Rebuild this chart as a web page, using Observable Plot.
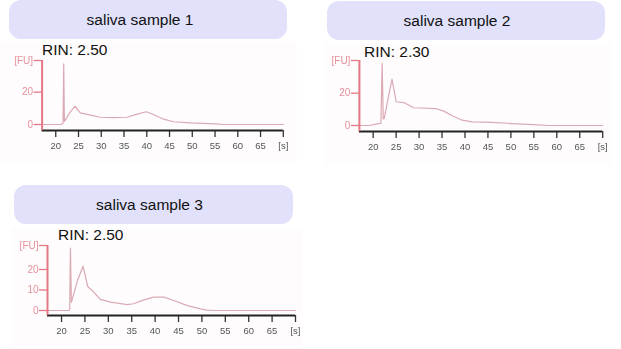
<!DOCTYPE html>
<html>
<head>
<meta charset="utf-8">
<script src="https://cdn.jsdelivr.net/npm/d3@7"></script>
<script src="https://cdn.jsdelivr.net/npm/@observablehq/plot@0.6"></script>
<style>
  html, body { margin: 0; padding: 0; background: #fff; }
  #page { position: relative; width: 621px; height: 349px; overflow: hidden;
          font-family: "Liberation Sans", Arial, sans-serif; }
  .head { position: absolute; background: #e1e1fb; border-radius: 12px;
          font-size: 15.5px; color: #111; display: flex; align-items: center; }
  .rin { position: absolute; font-size: 15.5px; color: #111; line-height: 1; }
  .chart { position: absolute; }
  .chart svg { display: block; filter: blur(0.3px); }
</style>
</head>
<body>
<div id="page"></div>
<script>
// Sample names and RNA integrity numbers
const sampleNames = ["saliva sample 1", "saliva sample 2", "saliva sample 3"];
const rinValues = [2.50, 2.30, 2.50];

// Migration time [s] and fluorescence [FU] for each electropherogram
const time1 = [17, 21.2, 21.6, 21.75, 21.9, 22.1, 23.0, 24.2, 25.4, 27.6, 29.8, 32.5, 35.7, 37.9, 39.9, 41.5, 43.7, 45.9, 49.6, 55, 57, 70];
const fu1   = [0,  0,    0.8,  37.5,  2.0,  2.7,  7.0,  11.3, 7.2,  5.8,  4.5,  4.3,  4.5,  6.4,  7.9,  6.2,  3.3,  1.7,  1.0,  0.4, 0, 0];

const time2 = [17, 19, 21.2, 21.7, 21.95, 22.2, 22.4, 23.4, 24.1, 25.0, 26.7, 28.8, 33.6, 35.4, 37.2, 39.4, 41.6, 45.9, 50.3, 55, 58, 70];
const fu2   = [0,  0,  1.2,  1.5,  38.4,  4.0,  4.3,  18.8, 28.7, 14.7, 14.2, 11.0, 10.5, 8.9,  6.0,  3.3,  2.3,  1.9,  1.2,  0.6, 0, 0];

const time3 = [17, 21.6, 21.75, 21.9, 22.1, 23.4, 24.6, 25.6, 26.9, 28.3, 30.5, 34.0, 35.4, 37.6, 39.7, 41.9, 44.0, 46.9, 49.7, 51.1, 53, 70];
const fu3   = [0,  0,    0.5,   30.4, 4.0,  14.6, 21.6, 11.7, 8.9,  5.4,  4.1,  2.9,  3.3,  5.2,  6.5,  6.5,  4.9,  2.4,  0.8,  0.2,  0, 0];

// Axis ticks
const xTicks = [20, 25, 30, 35, 40, 45, 50, 55, 60, 65, 70];
const yTicksA = [0, 20];
const yTicksB = [0, 10, 20];

const series = [
  {time: time1, fu: fu1, yTicks: yTicksA},
  {time: time2, fu: fu2, yTicks: yTicksA},
  {time: time3, fu: fu3, yTicks: yTicksB}
];

// Page layout of each panel: header box, RIN label, chart frame
const layout = [
  {head: {left: 9, top: 0, width: 278, height: 39, shift: 16},
   rin: {left: 42, top: 42},
   svg: {left: 0, top: 42, width: 297, height: 122},
   margin: {left: 41.6, right: 14.2, top: 18, bottom: 34},
   y: [-3.7, 39.6]},
  {head: {left: 327, top: 1, width: 278, height: 39, shift: 18},
   rin: {left: 364, top: 44},
   svg: {left: 325, top: 43, width: 287, height: 122},
   margin: {left: 33.9, right: 9.8, top: 17, bottom: 34},
   y: [-3.7, 40.2]},
  {head: {left: 14, top: 185, width: 279, height: 39, shift: 8},
   rin: {left: 58, top: 227},
   svg: {left: 12, top: 228, width: 290, height: 117},
   margin: {left: 35, right: 7, top: 17, bottom: 30},
   y: [-2.44, 31.7]}
];

const axisRed = "#e57886";
const labelRed = "#e8909b";
const traceColor = "#dbaab4";
const page = document.getElementById("page");

series.forEach((s, i) => {
  const L = layout[i];

  const head = document.createElement("div");
  head.className = "head";
  Object.assign(head.style, {
    left: L.head.left + "px", top: L.head.top + "px",
    width: L.head.width + "px", height: L.head.height + "px",
    justifyContent: "center", paddingRight: L.head.shift + "px", boxSizing: "border-box"
  });
  head.textContent = sampleNames[i];
  page.appendChild(head);

  const rin = document.createElement("div");
  rin.className = "rin";
  rin.style.left = L.rin.left + "px";
  rin.style.top = L.rin.top + "px";
  rin.textContent = "RIN: " + rinValues[i].toFixed(2);

  const data = s.time.map((t, k) => ({t, fu: s.fu[k]}));
  const [y0, y1] = L.y;

  const chart = Plot.plot({
    width: L.svg.width,
    height: L.svg.height,
    marginLeft: L.margin.left,
    marginRight: L.margin.right,
    marginTop: L.margin.top,
    marginBottom: L.margin.bottom,
    x: {domain: [17, 70]},
    y: {domain: [y0, y1]},
    style: {background: "#fefcfc", fontFamily: "'Liberation Sans', Arial, sans-serif", overflow: "visible"},
    marks: [
      Plot.line(data, {x: "t", y: "fu", stroke: traceColor, strokeWidth: 1.2}),
      Plot.axisX({
        ticks: xTicks,
        tickFormat: d => d === 70 ? "[s]" : String(d),
        tickSize: 7, tickPadding: 5, fontSize: 9.5,
        stroke: "#333", strokeWidth: 1.3, fill: "#555", label: null
      }),
      Plot.ruleY([y0], {stroke: "#222", strokeWidth: 2}),
      Plot.axisY({
        ticks: [...s.yTicks, y1],
        tickFormat: d => d === y1 ? "[FU]" : String(d),
        tickSize: 8, tickPadding: 1, fontSize: 10,
        stroke: axisRed, strokeWidth: 1.3, fill: labelRed, label: null
      }),
      Plot.ruleX([17], {stroke: axisRed, strokeWidth: 2})
    ]
  });

  const wrap = document.createElement("div");
  wrap.className = "chart";
  wrap.style.left = L.svg.left + "px";
  wrap.style.top = L.svg.top + "px";
  wrap.appendChild(chart);
  page.appendChild(wrap);
  page.appendChild(rin);
});
</script>
</body>
</html>
